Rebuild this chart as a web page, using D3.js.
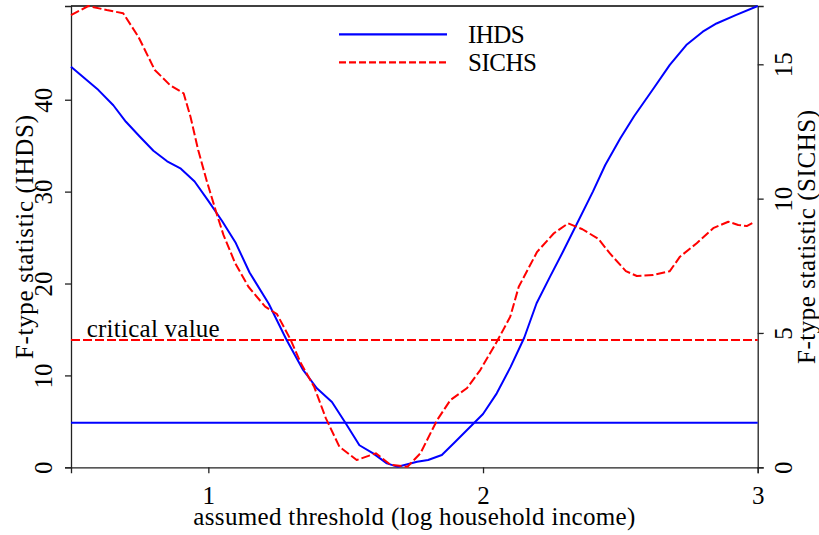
<!DOCTYPE html>
<html>
<head>
<meta charset="utf-8">
<script src="https://cdn.jsdelivr.net/npm/d3@7"></script>
<style>
  html, body { margin: 0; padding: 0; background: #fff; }
  svg { display: block; }
</style>
</head>
<body>
<svg id="chart" width="819" height="535"></svg>
<script>
// ---- data ----
const ihdsX = [0.50,0.60,0.654,0.70,0.75,0.80,0.85,0.90,0.95,1.00,1.05,1.10,1.15,1.22,1.285,1.345,1.395,1.45,1.50,1.55,1.60,1.65,1.69,1.76,1.80,1.85,1.90,1.96,2.00,2.05,2.10,2.15,2.195,2.245,2.29,2.34,2.40,2.445,2.50,2.55,2.62,2.68,2.74,2.80,2.85,2.92,3.00];
const ihdsY = [43.6,41.05,39.4,37.6,36.0,34.45,33.3,32.5,31.1,29.0,26.8,24.4,21.2,17.8,13.85,10.6,8.6,7.1,4.8,2.4,1.52,0.43,0.05,0.6,0.8,1.34,2.8,4.6,5.8,8.05,10.9,14.1,17.85,20.8,23.4,26.4,30.0,32.9,35.8,38.2,41.2,43.8,45.95,47.4,48.3,49.2,50.2];

const sichsX = [0.50,0.563,0.63,0.69,0.745,0.805,0.86,0.91,0.935,0.963,0.995,1.03,1.055,1.098,1.146,1.207,1.25,1.30,1.337,1.385,1.428,1.477,1.54,1.61,1.664,1.725,1.772,1.833,1.881,1.941,1.99,2.05,2.099,2.13,2.197,2.258,2.31,2.362,2.42,2.462,2.52,2.56,2.62,2.68,2.717,2.778,2.838,2.893,2.929,2.96,2.99];
const sichsY = [16.83,17.17,17.02,16.9,16.03,14.79,14.23,13.92,13.05,11.81,10.63,9.45,8.65,7.59,6.72,5.98,5.7,4.74,3.87,3.0,1.82,0.77,0.27,0.52,0.09,0.02,0.52,1.76,2.5,2.94,3.62,4.67,5.6,6.72,8.02,8.71,9.08,8.86,8.5,7.96,7.3,7.12,7.16,7.3,7.84,8.34,8.9,9.14,9.02,8.98,9.14];

const criticalIHDS = 4.85;   // left scale
const criticalSICHS = 4.74;  // right scale

const xTicks = [1, 2, 3];
const leftTicks = [0, 10, 20, 30, 40];
const rightTicks = [0, 5, 10, 15];

const seriesNames = ["IHDS", "SICHS"];
const seriesColors = ["#0000ff", "#ff0000"];
const xTitle = "assumed threshold (log household income)";
const leftTitle = "F-type statistic (IHDS)";
const rightTitle = "F-type statistic (SICHS)";
const criticalLabel = "critical value";

// ---- layout ----
const svg = d3.select("#chart");
const FONT = '"Liberation Serif", "Times New Roman", serif';
const L = 71, R = 757.7, T = 6, B = 467.3;
const FS = 25;

const x = d3.scaleLinear().domain([0.5, 3]).range([L, R]);
const yL = d3.scaleLinear().domain([0, 50.2]).range([B, T]);
const yR = d3.scaleLinear().domain([0, 17.17]).range([B, T]);

svg.append("line").attr("x1", L).attr("x2", R).attr("y1", T).attr("y2", T)
  .attr("stroke", "#000").attr("stroke-width", 1.3);

const gx = svg.append("g").attr("transform", `translate(0,${B})`)
  .call(d3.axisBottom(x).tickValues(xTicks).tickFormat(d3.format("d")).tickSizeOuter(0).tickSize(6));
gx.selectAll("text").attr("y", 37).attr("dy", 0);

const gl = svg.append("g").attr("transform", `translate(${L},0)`)
  .call(d3.axisLeft(yL).tickValues(leftTicks).tickFormat(d3.format("d")).tickSizeOuter(0).tickSize(6));
gl.selectAll("text").attr("x", 0).attr("dy", 0).attr("text-anchor", "middle")
  .attr("transform", "translate(-19,0) rotate(-90)");

const gr = svg.append("g").attr("transform", `translate(${R},0)`)
  .call(d3.axisRight(yR).tickValues(rightTicks).tickFormat(d3.format("d")).tickSizeOuter(0).tickSize(6));
gr.selectAll("text").attr("x", 0).attr("dy", 0).attr("text-anchor", "middle")
  .attr("transform", "translate(34,0) rotate(-90)");

svg.selectAll("g").attr("font-family", FONT).attr("font-size", FS);
svg.selectAll(".domain").attr("stroke", "#222").attr("stroke-width", 1.3);
svg.selectAll(".tick line").attr("stroke", "#222").attr("stroke-width", 1.3);
svg.selectAll(".tick text").attr("fill", "#000");

function label(sel, txt, len) {
  return sel.attr("font-family", FONT).attr("font-size", FS).attr("fill", "#000")
    .attr("textLength", len).attr("lengthAdjust", "spacing").text(txt);
}

label(svg.append("text").attr("x", (L + R) / 2).attr("y", 525).attr("text-anchor", "middle"), xTitle, 442);
label(svg.append("text").attr("transform", `translate(32.5,237) rotate(-90)`).attr("text-anchor", "middle"), leftTitle, 244);
label(svg.append("text").attr("transform", `translate(815,237) rotate(-90)`).attr("text-anchor", "middle"), rightTitle, 254);

svg.append("line").attr("x1", L).attr("x2", R).attr("y1", yL(criticalIHDS)).attr("y2", yL(criticalIHDS))
  .attr("stroke", seriesColors[0]).attr("stroke-width", 2);
svg.append("line").attr("x1", L).attr("x2", R).attr("y1", yR(criticalSICHS)).attr("y2", yR(criticalSICHS))
  .attr("stroke", seriesColors[1]).attr("stroke-width", 2).attr("stroke-dasharray", "9,3");
label(svg.append("text").attr("x", 86.7).attr("y", yR(criticalSICHS) - 3), criticalLabel, 133);

const lineL = d3.line().x(d => x(d[0])).y(d => yL(d[1]));
const lineR = d3.line().x(d => x(d[0])).y(d => yR(d[1]));
svg.append("path").datum(d3.zip(ihdsX, ihdsY)).attr("d", lineL)
  .attr("fill", "none").attr("stroke", seriesColors[0]).attr("stroke-width", 2).attr("stroke-linejoin", "round");
svg.append("path").datum(d3.zip(sichsX, sichsY)).attr("d", lineR)
  .attr("fill", "none").attr("stroke", seriesColors[1]).attr("stroke-width", 2).attr("stroke-dasharray", "9,3").attr("stroke-linejoin", "round");

const legendLens = [56.7, 69];
const lg = svg.append("g");
seriesNames.forEach((name, i) => {
  const yy = 34.3 + i * 28;
  lg.append("line").attr("x1", 339).attr("x2", 447).attr("y1", yy).attr("y2", yy)
    .attr("stroke", seriesColors[i]).attr("stroke-width", 2.2)
    .attr("stroke-dasharray", i === 1 ? "7,3" : null);
  label(lg.append("text").attr("x", 468).attr("y", yy + 9), name, legendLens[i]);
});
</script>
</body>
</html>
